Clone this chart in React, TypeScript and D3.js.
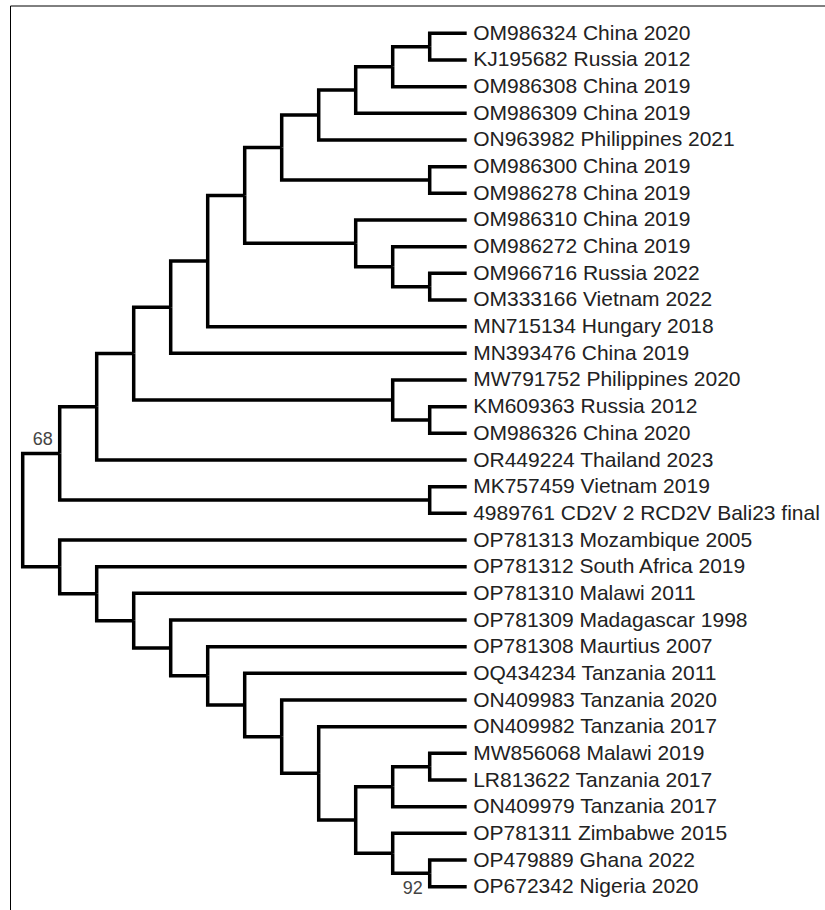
import React from "react";
import * as d3 from "d3";

// Leaf labels, top to bottom
const LABELS: string[] = [
  "OM986324 China 2020",
  "KJ195682 Russia 2012",
  "OM986308 China 2019",
  "OM986309 China 2019",
  "ON963982 Philippines 2021",
  "OM986300 China 2019",
  "OM986278 China 2019",
  "OM986310 China 2019",
  "OM986272 China 2019",
  "OM966716 Russia 2022",
  "OM333166 Vietnam 2022",
  "MN715134 Hungary 2018",
  "MN393476 China 2019",
  "MW791752 Philippines 2020",
  "KM609363 Russia 2012",
  "OM986326 China 2020",
  "OR449224 Thailand 2023",
  "MK757459 Vietnam 2019",
  "4989761 CD2V 2 RCD2V Bali23 final",
  "OP781313 Mozambique 2005",
  "OP781312 South Africa 2019",
  "OP781310 Malawi 2011",
  "OP781309 Madagascar 1998",
  "OP781308 Maurtius 2007",
  "OQ434234 Tanzania 2011",
  "ON409983 Tanzania 2020",
  "ON409982 Tanzania 2017",
  "MW856068 Malawi 2019",
  "LR813622 Tanzania 2017",
  "ON409979 Tanzania 2017",
  "OP781311 Zimbabwe 2015",
  "OP479889 Ghana 2022",
  "OP672342 Nigeria 2020",
];

// Topology as nested arrays of leaf indices
const UPPER_CLADE = [
  [
    [
      [
        [
          [[[[[0, 1], 2], 3], 4], [5, 6]],
          [7, [8, [9, 10]]],
        ],
        11,
      ],
      12,
    ],
    [13, [14, 15]],
  ],
  16,
];
const ASIAN_CLADE = [UPPER_CLADE, [17, 18]];
const AFRICAN_CLADE = [
  19,
  [20, [21, [22, [23, [24, [25, [26, [[[27, 28], 29], [30, [31, 32]]]]]]]]]],
];
const TREE = [ASIAN_CLADE, AFRICAN_CLADE];

// Bootstrap support values: node identified by its first..last leaf index
const SUPPORT_NODES: [number, number][] = [
  [0, 18],
  [31, 32],
];
const SUPPORT_VALUES: string[] = ["68", "92"];
const SUPPORT_SIDE: string[] = ["above", "below"];

export default function App() {
  const W = 825;
  const H = 910;

  const root = d3.hierarchy<any>(TREE, (d: any) => (Array.isArray(d) ? d : null));
  const cluster = d3.cluster<any>().nodeSize([1, 1]).separation(() => 1);
  cluster(root);

  const leaves = root.leaves();
  const maxDepth = d3.max(root.descendants(), (n: any) => n.y) as number;
  const xScale = d3.scaleLinear().domain([0, maxDepth]).range([22.7, 466.7]);
  const yScale = d3
    .scaleLinear()
    .domain([leaves[0].x as number, leaves[leaves.length - 1].x as number])
    .range([33.3, 886.7]);

  const px = (n: any) => xScale(n.y);
  const py = (n: any) => yScale(n.x);

  const links = root.links();

  const leafRange = (n: any): [number, number] => {
    const ls = n.leaves();
    return [ls[0].data as number, ls[ls.length - 1].data as number];
  };

  const supportMarks = SUPPORT_NODES.map((range, i) => {
    const node = root
      .descendants()
      .find((n: any) => {
        if (!n.children) return false;
        const r = leafRange(n);
        return r[0] === range[0] && r[1] === range[1];
      });
    if (!node) return null;
    const x = px(node) - 7;
    const y = SUPPORT_SIDE[i] === "above" ? py(node) - 8 : py(node) + 21;
    return (
      <text
        key={"s" + i}
        x={x}
        y={y}
        textAnchor="end"
        fontSize={18}
        fill="#444"
        fontFamily="Arial, 'Liberation Sans', sans-serif"
      >
        {SUPPORT_VALUES[i]}
      </text>
    );
  });

  return (
    <svg
      width={W}
      height={H}
      style={{ position: "absolute", left: 0, top: 0, background: "#fff" }}
    >
      <rect x={0} y={0} width={W} height={H} fill="#fff" />
      <line x1={10.5} y1={6} x2={W} y2={6} stroke="#000" strokeWidth={1} />
      <line x1={10.5} y1={6} x2={10.5} y2={H} stroke="#000" strokeWidth={1} />
      <g fill="none" stroke="#000" strokeWidth={3.5} strokeLinejoin="miter">
        {links.map((l: any, i: number) => (
          <path
            key={i}
            d={`M${px(l.source)},${py(l.source)}V${py(l.target)}H${px(l.target)}`}
          />
        ))}
        <path d={`M${px(root)},${py(root)}H${px(root) - 0.01}`} />
      </g>
      <g
        fontFamily="Arial, 'Liberation Sans', sans-serif"
        fontSize={21}
        fill="#222"
      >
        {leaves.map((n: any, i: number) => (
          <text key={i} x={px(n) + 6.5} y={py(n) + 6.5}>
            {LABELS[n.data as number]}
          </text>
        ))}
      </g>
      {supportMarks}
    </svg>
  );
}
